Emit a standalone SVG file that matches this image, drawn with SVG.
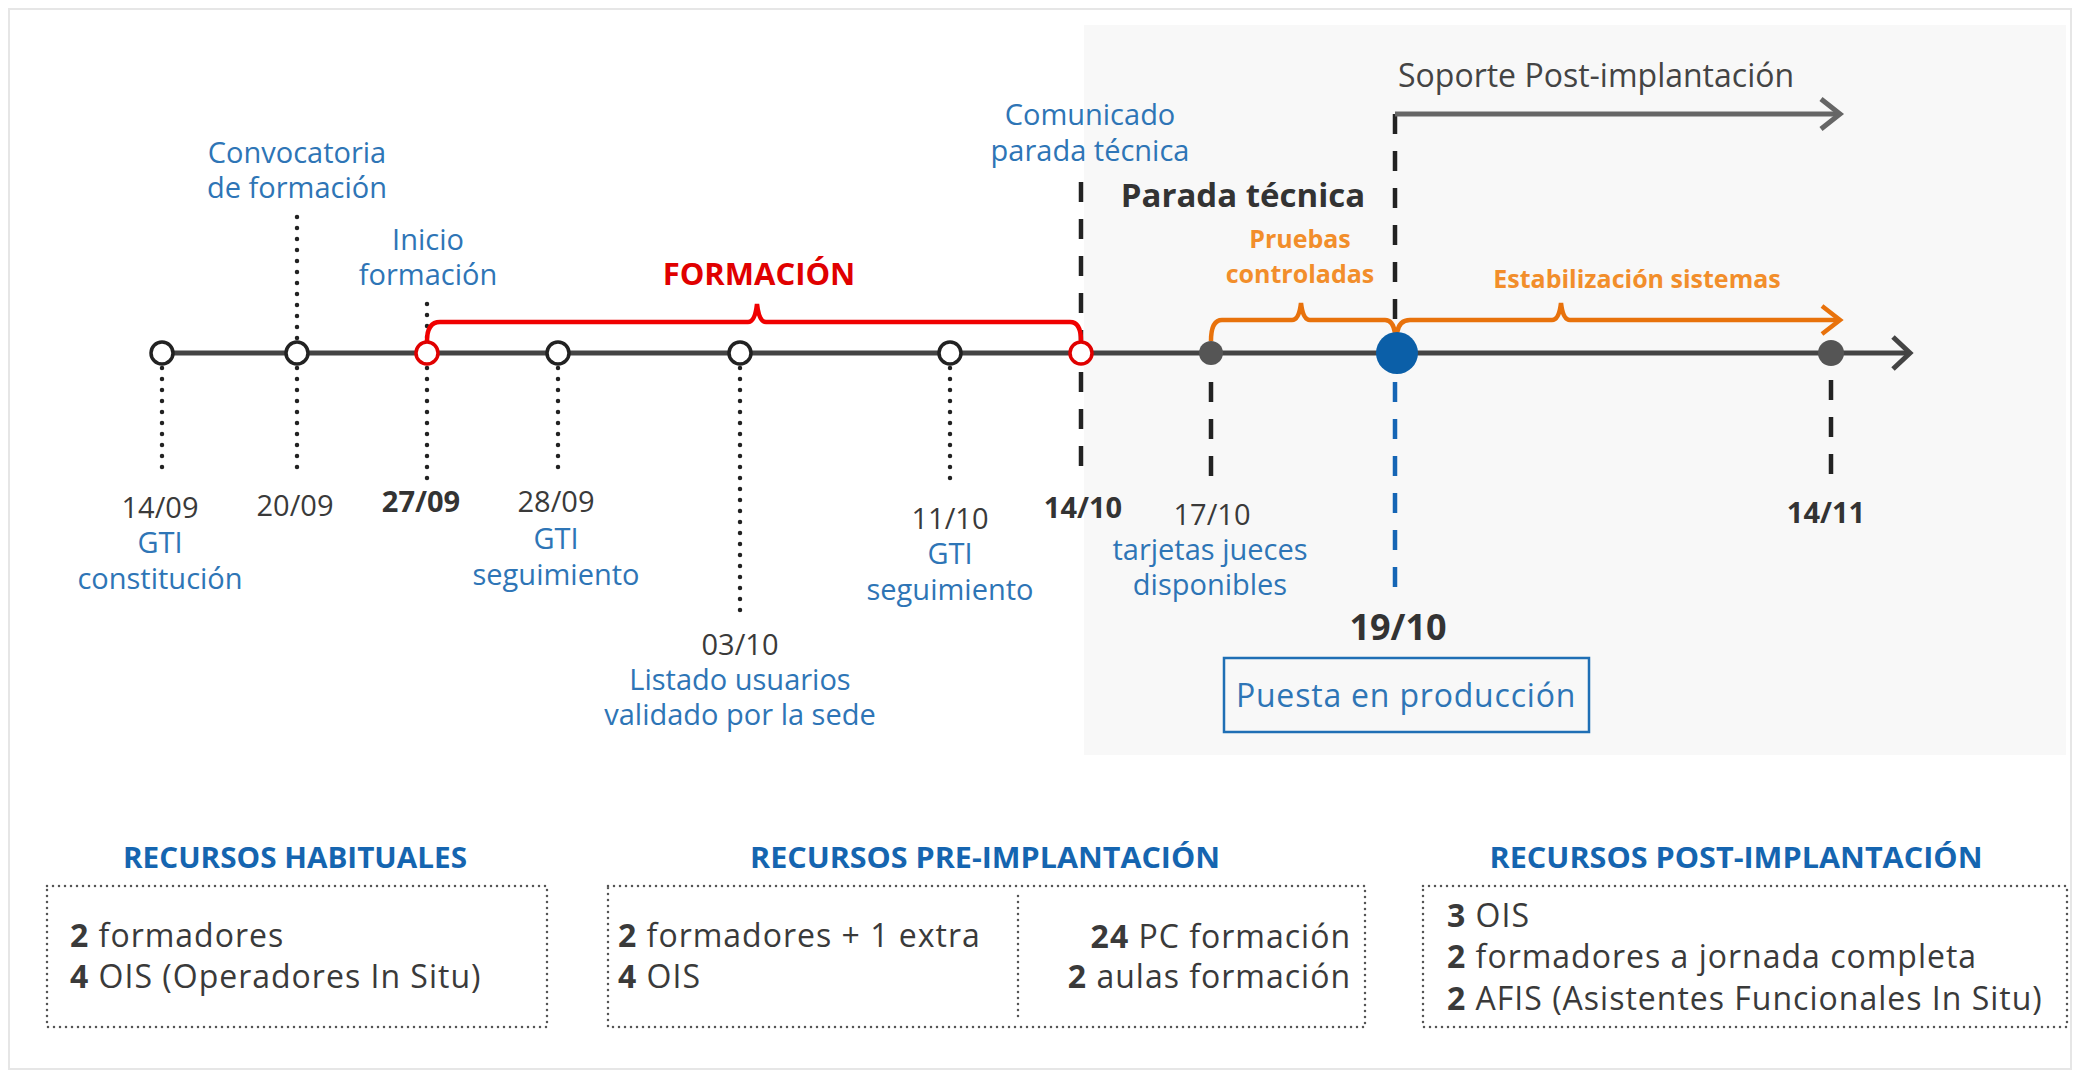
<svg xmlns="http://www.w3.org/2000/svg" width="2080" height="1077" viewBox="0 0 2080 1077">
<style>
text{font-family:"Open Sans","Liberation Sans",sans-serif}
.lbl{fill:#2e75b6;font-size:29px;text-anchor:middle}
.date{fill:#3a3a3a;font-size:29px;text-anchor:middle}
.dateb{fill:#333;font-size:29px;font-weight:bold;text-anchor:middle}
.orange{fill:#f28e2b;font-size:25px;font-weight:bold;text-anchor:middle}
.head{fill:#1565b0;font-size:28px;font-weight:bold;text-anchor:middle}
.res{fill:#3a3a3a;font-size:32px;letter-spacing:1px}
.res tspan.n{font-weight:bold}
.dot{stroke:#222;stroke-width:4.5;stroke-dasharray:0 11;stroke-linecap:round;fill:none}
.dash{stroke:#222;stroke-width:4.5;stroke-dasharray:20 17;fill:none}
.box{fill:none;stroke:#555;stroke-width:2.5;stroke-dasharray:0 6;stroke-linecap:round}
.node{fill:#fff;stroke:#222;stroke-width:3.5}
.rnode{fill:#fff;stroke:#e00000;stroke-width:3.5}
</style>
<rect x="9" y="9" width="2062" height="1060" fill="#fff" stroke="#e6e6e6" stroke-width="2"/>
<rect x="1084" y="25" width="982" height="730" fill="#f8f8f8"/>

<g id="connectors">
  <line class="dot" x1="297" y1="217" x2="297" y2="340"/>
  <line class="dot" x1="427" y1="304" x2="427" y2="340"/>
  <line class="dot" x1="162" y1="368" x2="162" y2="477"/>
  <line class="dot" x1="297" y1="368" x2="297" y2="476"/>
  <line class="dot" x1="427" y1="368" x2="427" y2="479"/>
  <line class="dot" x1="558" y1="368" x2="558" y2="472"/>
  <line class="dot" x1="740" y1="368" x2="740" y2="618"/>
  <line class="dot" x1="950" y1="368" x2="950" y2="487"/>
  <line class="dash" x1="1081" y1="182" x2="1081" y2="340"/>
  <line class="dash" x1="1081" y1="372" x2="1081" y2="480"/>
  <line class="dash" x1="1211" y1="382" x2="1211" y2="486"/>
  <line class="dash" x1="1395" y1="114" x2="1395" y2="330"/>
  <line x1="1395" y1="382" x2="1395" y2="602" stroke="#1565b5" stroke-width="4.5" stroke-dasharray="20 17"/>
  <line class="dash" x1="1831" y1="380" x2="1831" y2="483"/>
  <path d="M1395,114 L1838,114" stroke="#666" stroke-width="5" fill="none"/>
  <polyline points="1821,99 1840,114 1821,129" stroke="#666" stroke-width="5" fill="none"/>
  <path d="M162,353 L1908,353" stroke="#444" stroke-width="5" fill="none"/>
  <polyline points="1893,337 1910,353 1893,369" stroke="#444" stroke-width="5" fill="none"/>
  <path d="M427,341 Q427,322 440,322 L748,322 Q755,322 757,304 Q759,322 766,322 L1070,322 Q1081,322 1081,341" stroke="#f00000" stroke-width="4.5" fill="none"/>
  <path d="M1211,341 Q1211,320 1222,320 L1292,320 Q1299,320 1301,303 Q1303,320 1310,320 L1385,320 Q1393,320 1395,333" stroke="#e8720c" stroke-width="4.5" fill="none"/>
  <path d="M1397,333 Q1399,320 1410,320 L1552,320 Q1559,320 1561,303 Q1563,320 1570,320 L1838,320" stroke="#e8720c" stroke-width="4.5" fill="none"/>
  <polyline points="1822,306 1840,320 1822,334" stroke="#e8720c" stroke-width="4.5" fill="none"/>
</g>

<g id="n1409"><circle class="node" cx="162" cy="353" r="11"/>
  <text class="date" x="160" y="518">14/09</text><text class="lbl" x="160" y="553">GTI</text><text class="lbl" x="160" y="589">constitución</text></g>
<g id="n2009"><circle class="node" cx="297" cy="353" r="11"/>
  <text class="lbl" x="297" y="163">Convocatoria</text><text class="lbl" x="297" y="198">de formación</text>
  <text class="date" x="295" y="516">20/09</text></g>
<g id="n2709"><circle class="rnode" cx="427" cy="353" r="11"/>
  <text class="lbl" x="428" y="250">Inicio</text><text class="lbl" x="428" y="285">formación</text>
  <text class="dateb" x="421" y="512">27/09</text></g>
<g id="n2809"><circle class="node" cx="558" cy="353" r="11"/>
  <text class="date" x="556" y="512">28/09</text><text class="lbl" x="556" y="549">GTI</text><text class="lbl" x="556" y="585">seguimiento</text></g>
<g id="n0310"><circle class="node" cx="740" cy="353" r="11"/>
  <text class="date" x="740" y="655">03/10</text><text class="lbl" x="740" y="690">Listado usuarios</text><text class="lbl" x="740" y="725">validado por la sede</text></g>
<g id="n1110"><circle class="node" cx="950" cy="353" r="11"/>
  <text class="date" x="950" y="529">11/10</text><text class="lbl" x="950" y="564">GTI</text><text class="lbl" x="950" y="600">seguimiento</text></g>
<g id="formacion"><text x="759" y="285" fill="#e00000" font-size="31" font-weight="bold" text-anchor="middle">FORMACIÓN</text></g>
<g id="n1410"><circle class="rnode" cx="1081" cy="353" r="11"/>
  <text class="lbl" x="1090" y="125">Comunicado</text><text class="lbl" x="1090" y="161">parada técnica</text>
  <text class="dateb" x="1083" y="518">14/10</text></g>
<g id="parada"><text x="1243" y="207" fill="#333" font-size="33" font-weight="bold" text-anchor="middle">Parada técnica</text></g>
<g id="pruebas"><text class="orange" x="1300" y="248">Pruebas</text><text class="orange" x="1300" y="283">controladas</text></g>
<g id="n1710"><circle cx="1211" cy="353" r="12" fill="#555"/>
  <text class="date" x="1212" y="525">17/10</text><text class="lbl" x="1210" y="560">tarjetas jueces</text><text class="lbl" x="1210" y="595">disponibles</text></g>
<g id="n1910"><circle cx="1397" cy="353" r="21" fill="#0b5fa8"/>
  <text x="1398" y="640" fill="#333" font-size="36" font-weight="bold" text-anchor="middle">19/10</text>
  <rect x="1224" y="658" width="365" height="74" fill="#f8f8f8" stroke="#1f6fb5" stroke-width="2.5"/>
  <text x="1406" y="707" fill="#2e75b6" font-size="32" letter-spacing="0.8" text-anchor="middle">Puesta en producción</text></g>
<g id="soporte"><text x="1398" y="87" fill="#444" font-size="32">Soporte Post-implantación</text></g>
<g id="estab"><text class="orange" x="1637" y="288">Estabilización sistemas</text></g>
<g id="n1411"><circle cx="1831" cy="353" r="13" fill="#555"/>
  <text class="dateb" x="1826" y="523">14/11</text></g>

<g id="habituales">
  <text class="head" x="295" y="868" textLength="344" lengthAdjust="spacingAndGlyphs">RECURSOS HABITUALES</text>
  <rect class="box" x="47" y="886" width="500" height="141"/>
  <text class="res" x="70" y="947"><tspan class="n">2</tspan> formadores</text>
  <text class="res" x="70" y="988"><tspan class="n">4</tspan> OIS (Operadores In Situ)</text>
</g>
<g id="preimpl">
  <text class="head" x="985" y="868" textLength="470" lengthAdjust="spacingAndGlyphs">RECURSOS PRE-IMPLANTACIÓN</text>
  <rect class="box" x="608" y="886" width="757" height="141"/>
  <line class="box" x1="1018" y1="896" x2="1018" y2="1017"/>
  <text class="res" x="618" y="947"><tspan class="n">2</tspan> formadores + 1 extra</text>
  <text class="res" x="618" y="988"><tspan class="n">4</tspan> OIS</text>
  <text class="res" x="1351" y="948" text-anchor="end"><tspan class="n">24</tspan> PC formación</text>
  <text class="res" x="1351" y="988" text-anchor="end"><tspan class="n">2</tspan> aulas formación</text>
</g>
<g id="postimpl">
  <text class="head" x="1736" y="868" textLength="493" lengthAdjust="spacingAndGlyphs">RECURSOS POST-IMPLANTACIÓN</text>
  <rect class="box" x="1423" y="886" width="644" height="141"/>
  <text class="res" x="1447" y="927"><tspan class="n">3</tspan> OIS</text>
  <text class="res" x="1447" y="968"><tspan class="n">2</tspan> formadores a jornada completa</text>
  <text class="res" x="1447" y="1010"><tspan class="n">2</tspan> AFIS (Asistentes Funcionales In Situ)</text>
</g>
</svg>
